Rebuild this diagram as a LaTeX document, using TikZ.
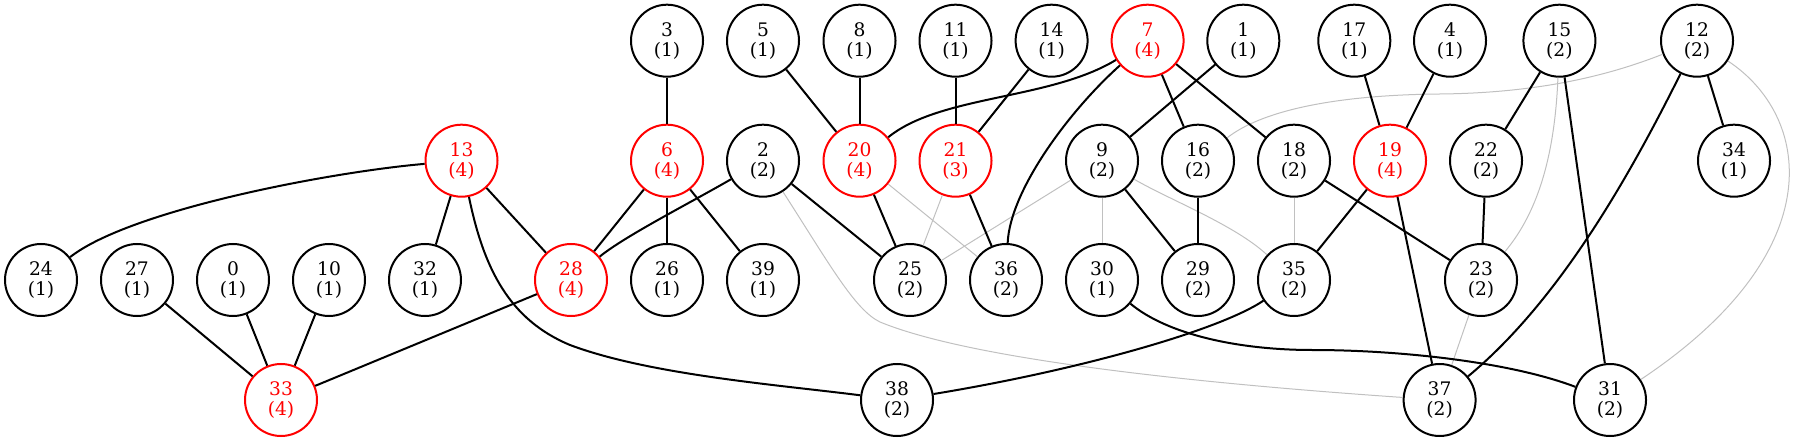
\documentclass[tikz,border=0pt]{standalone}
\usepackage{fontspec}
\setmainfont{DejaVu Serif}
\definecolor{lgray}{RGB}{192,192,192}
\begin{document}
\begin{tikzpicture}[x=0.75pt,y=-0.75pt,
  nd/.style={circle,draw=black,line width=1.5pt,minimum size=54pt,inner sep=0pt,
    align=center,font=\fontsize{14}{15}\selectfont},
  rd/.style={nd,draw=red,text=red},
  be/.style={draw=black,line width=1.5pt},
  ge/.style={draw=lgray,line width=0.75pt}]
\useasboundingbox (0,0) rectangle (1797,441);
% row 1
\node[nd] (n3) at (667,40.7) {3\\(1)};
\node[nd] (n5) at (763,40.7) {5\\(1)};
\node[nd] (n8) at (859.5,40.7) {8\\(1)};
\node[nd] (n11) at (955.5,40.7) {11\\(1)};
\node[nd] (n14) at (1051.6,40.7) {14\\(1)};
\node[rd] (n7) at (1147.6,40.7) {7\\(4)};
\node[nd] (n1) at (1243.3,40.7) {1\\(1)};
\node[nd] (n17) at (1354.3,40.7) {17\\(1)};
\node[nd] (n4) at (1450,40.7) {4\\(1)};
\node[nd] (n15) at (1559.4,40.7) {15\\(2)};
\node[nd] (n12) at (1697,40.7) {12\\(2)};
% row 2
\node[rd] (n13) at (461.5,160.7) {13\\(4)};
\node[rd] (n6) at (667,160.7) {6\\(4)};
\node[nd] (n2) at (763,160.7) {2\\(2)};
\node[rd] (n20) at (859.5,160.7) {20\\(4)};
\node[rd] (n21) at (955.5,160.7) {21\\(3)};
\node[nd] (n9) at (1102,160.7) {9\\(2)};
\node[nd] (n16) at (1198,160.7) {16\\(2)};
\node[nd] (n18) at (1294,160.7) {18\\(2)};
\node[rd] (n19) at (1390,160.7) {19\\(4)};
\node[nd] (n22) at (1486,160.7) {22\\(2)};
\node[nd] (n34) at (1734,160.7) {34\\(1)};
% row 3
\node[nd] (n24) at (41,280) {24\\(1)};
\node[nd] (n27) at (137,280) {27\\(1)};
\node[nd] (n0) at (233,280) {0\\(1)};
\node[nd] (n10) at (329,280) {10\\(1)};
\node[nd] (n32) at (425,280) {32\\(1)};
\node[rd] (n28) at (571,280) {28\\(4)};
\node[nd] (n26) at (667,280) {26\\(1)};
\node[nd] (n39) at (763,280) {39\\(1)};
\node[nd] (n25) at (910,280) {25\\(2)};
\node[nd] (n36) at (1006,280) {36\\(2)};
\node[nd] (n30) at (1102,280) {30\\(1)};
\node[nd] (n29) at (1198,280) {29\\(2)};
\node[nd] (n35) at (1294,280) {35\\(2)};
\node[nd] (n23) at (1481,280) {23\\(2)};
% row 4
\node[rd] (n33) at (281,400) {33\\(4)};
\node[nd] (n38) at (897,400) {38\\(2)};
\node[nd] (n37) at (1439.6,400) {37\\(2)};
\node[nd] (n31) at (1610,400) {31\\(2)};
% gray edges
\draw[ge] (n2) .. controls (830,265) and (855,310) .. (880,322) .. controls (960,355) and (1150,380) .. (n37);
\draw[ge] (n12) .. controls (1610,75) and (1540,93) .. (1440,94) .. controls (1330,95) and (1260,112) .. (n16);
\draw[ge] (n12) .. controls (1810,115) and (1835,250) .. (n31);
\draw[ge] (n15) .. controls (1555,150) and (1540,210) .. (n23);
\draw[ge] (n9) .. controls (1170,200) and (1235,225) .. (n35);
\draw[ge] (n20) -- (n36);
\draw[ge] (n21) -- (n25);
\draw[ge] (n9) -- (n25);
\draw[ge] (n9) -- (n30);
\draw[ge] (n18) -- (n35);
\draw[ge] (n23) -- (n37);
% black edges
\draw[be] (n3) -- (n6);
\draw[be] (n5) -- (n20);
\draw[be] (n8) -- (n20);
\draw[be] (n11) -- (n21);
\draw[be] (n14) -- (n21);
\draw[be] (n7) .. controls (1050,100) and (940,95) .. (n20);
\draw[be] (n7) .. controls (1070,110) and (1010,190) .. (n36);
\draw[be] (n7) -- (n16);
\draw[be] (n7) -- (n18);
\draw[be] (n1) -- (n9);
\draw[be] (n17) -- (n19);
\draw[be] (n4) -- (n19);
\draw[be] (n15) -- (n22);
\draw[be] (n15) -- (n31);
\draw[be] (n12) -- (n34);
\draw[be] (n12) .. controls (1630,175) and (1560,300) .. (n37);
\draw[be] (n13) .. controls (330,172) and (130,210) .. (n24);
\draw[be] (n13) -- (n32);
\draw[be] (n13) -- (n28);
\draw[be] (n13) .. controls (484,270) and (510,320) .. (570,345) .. controls (650,375) and (780,385) .. (n38);
\draw[be] (n6) -- (n28);
\draw[be] (n6) -- (n26);
\draw[be] (n6) -- (n39);
\draw[be] (n2) .. controls (690,203) and (625,236) .. (n28);
\draw[be] (n2) -- (n25);
\draw[be] (n20) -- (n25);
\draw[be] (n21) -- (n36);
\draw[be] (n9) -- (n29);
\draw[be] (n16) -- (n29);
\draw[be] (n18) -- (n23);
\draw[be] (n19) -- (n35);
\draw[be] (n19) -- (n37);
\draw[be] (n22) -- (n23);
\draw[be] (n27) -- (n33);
\draw[be] (n0) -- (n33);
\draw[be] (n10) -- (n33);
\draw[be] (n28) -- (n33);
\draw[be] (n30) .. controls (1168,335) and (1240,350) .. (1312,350) .. controls (1400,350) and (1510,362) .. (n31);
\draw[be] (n35) .. controls (1220,330) and (1080,370) .. (n38);
\end{tikzpicture}
\end{document}
